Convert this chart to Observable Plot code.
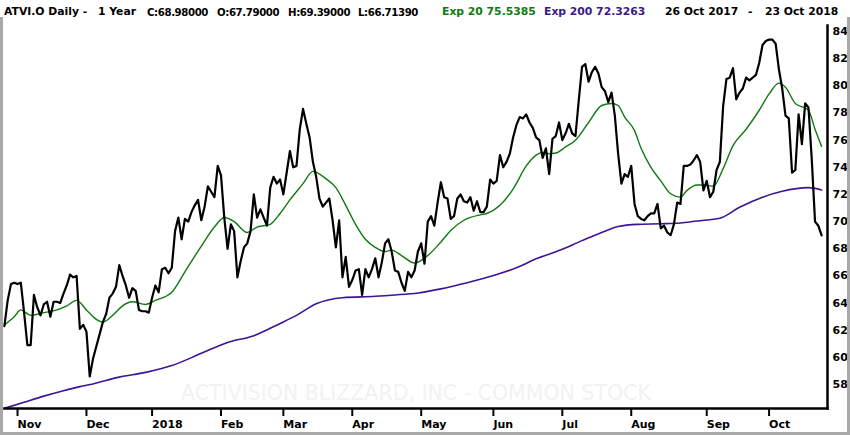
<!DOCTYPE html>
<html><head><meta charset="utf-8">
<script src="https://cdn.jsdelivr.net/npm/d3@7"></script>
<script src="https://cdn.jsdelivr.net/npm/@observablehq/plot@0.6"></script>
<style>
body{margin:0;background:#fff;}
#wrap{position:relative;width:850px;height:435px;overflow:hidden;background:#fff;font-family:"DejaVu Sans",sans-serif;}
.t{position:absolute;top:5px;font-size:10.8px;font-weight:bold;line-height:14px;white-space:pre;color:#000;}
.t.n{font-size:10.2px;letter-spacing:-0.4px;top:5.5px;}
#chart{position:absolute;left:0;top:20px;}
#border{position:absolute;left:0;top:17px;width:850px;height:418px;box-sizing:border-box;border:3px solid #a8a8a8;border-top:none;pointer-events:none;}
</style></head><body>
<div id="wrap"><div id="chart"></div><div id="border"></div></div>
<script>
// Daily closes, one per trading day, 26 Oct 2017 .. 23 Oct 2018 (index = trading day)
const closeValues = [
62.3,64.2,65.4,65.5,65.4,65.5,63.3,60.9,60.9,64.6,
63.7,63.1,63.9,64.1,63.0,64.1,64.1,64.0,64.7,65.3,
66.1,65.9,66.0,62.1,62.4,61.9,58.6,59.9,60.8,61.7,
62.6,63.2,64.4,64.7,65.2,66.8,66.0,65.3,64.4,65.1,
64.9,63.5,63.4,63.4,63.3,64.4,65.3,64.8,66.5,66.6,
66.2,66.6,69.3,70.3,68.7,70.2,70.0,70.7,71.2,71.6,
70.1,71.1,72.6,72.2,71.8,74.1,73.4,70.3,68.0,69.8,
69.3,65.9,67.1,68.1,68.4,69.3,72.0,70.3,70.9,70.3,
69.7,72.5,73.3,72.8,73.1,72.0,73.6,75.2,74.0,74.1,
76.8,78.3,77.2,76.2,74.4,73.3,71.7,71.1,71.4,71.7,
70.1,68.1,70.1,65.9,67.4,65.2,65.7,66.4,66.5,64.6,
66.5,65.9,66.5,67.3,65.9,67.0,68.4,68.7,67.8,66.4,
66.3,65.5,64.9,66.3,65.9,66.4,67.8,68.4,66.9,70.0,
70.4,69.7,71.4,72.9,71.8,71.7,70.2,70.4,71.7,72.0,
71.5,71.4,71.8,70.8,71.5,70.7,70.7,71.1,73.1,72.8,
73.0,74.9,74.0,74.4,75.0,76.2,77.1,77.7,77.6,77.9,
77.3,76.9,76.2,76.0,74.7,75.4,73.5,76.1,76.3,77.3,
76.0,76.5,77.2,76.5,76.3,78.9,81.4,81.6,80.3,81.0,
81.4,80.9,79.9,79.6,78.8,79.5,77.8,75.0,72.8,73.5,
73.3,74.1,71.3,70.4,70.2,70.1,70.4,70.6,70.6,71.3,
69.5,69.7,69.2,69.0,69.8,71.4,71.3,74.1,74.1,74.2,
74.5,74.9,74.4,72.3,73.0,71.8,72.2,73.8,74.4,78.5,
80.5,80.6,81.3,79.0,79.5,79.8,80.6,80.4,80.6,80.8,
81.7,83.0,83.3,83.4,83.4,83.1,81.2,79.8,77.8,77.6,
73.6,73.8,77.9,75.7,78.7,78.4,74.6,70.0,69.7,68.98
];
// Exp 20 moving average, read at these trading days
const ema20Index = [0,3,5,8,12,16,19,22,25,28,30,33,36,39,43,46,51,55,60,64,67,70,74,77,81,84,87,91,94,98,101,104,107,110,113,116,118,121,125,129,133,136,140,145,147,151,155,159,162,164,166,168,171,174,178,182,185,187,189,192,194,197,200,203,206,208,211,213,216,219,222,226,230,233,236,238,241,244,245,247,249];
const ema20Values = [62.4,63.0,63.5,63.1,63.3,63.5,63.8,64.2,63.5,62.8,62.6,63.1,63.8,64.1,63.9,64.2,64.8,66.3,68.2,69.6,70.3,70.0,69.2,69.6,69.8,70.6,71.6,72.8,73.7,73.15,72.5,71.2,69.8,68.7,68.1,67.8,67.9,67.5,66.95,67.5,68.5,69.35,70.1,70.5,70.6,71.2,72.4,74.1,74.9,75.1,75.0,75.05,75.5,76.0,77.3,78.55,78.7,78.55,77.7,76.7,75.4,74.0,73.0,72.05,71.8,72.3,72.7,72.7,72.6,73.9,75.6,76.8,78.2,79.4,80.2,79.9,78.7,78.35,78.2,76.8,75.54];
// Exp 200 moving average, read at these trading days
const ema200Index = [0,6,12,18,23,27,35,43,51,60,68,76,84,89,95,103,113,119,126,133,141,150,156,162,169,176,182,187,193,200,206,211,218,224,231,237,245,249];
const ema200Values = [56.25,56.7,57.15,57.55,57.85,58.05,58.55,58.9,59.4,60.3,61.1,61.6,62.5,63.1,63.95,64.4,64.5,64.6,64.75,65.05,65.5,66.1,66.6,67.26,67.87,68.6,69.2,69.64,69.8,69.84,69.9,70.05,70.25,71.06,71.8,72.24,72.5,72.33];
// Axis ticks
const monthTickIndex = [4,25,45,66,85,106,127,149,170,191,214,233];
const monthLabels = ["Nov","Dec","2018","Feb","Mar","Apr","May","Jun","Jul","Aug","Sep","Oct"];
const yTicks = [58,60,62,64,66,68,70,72,74,76,78,80,82,84];
// Header texts
const headerTexts = ["ATVI.O Daily -","1 Year","C:68.98000","O:67.79000","H:69.39000","L:66.71390","Exp 20 75.5385","Exp 200 72.3263","26 Oct 2017","-","23 Oct 2018"];
const watermark = "ACTIVISION BLIZZARD, INC - COMMON STOCK";

// layout for header pieces (left px, colour, narrow?)
const headerLayout = [[4,"#000",0],[98,"#000",0],[147,"#000",1],[217,"#000",1],[288,"#000",1],[358,"#000",1],[442,"#0f7a0f",0],[544,"#3a1a86",0],[665,"#000",0],[748,"#000",0],[765,"#000",0]];
const wrap = document.getElementById("wrap");
headerTexts.forEach((t,k)=>{
  const s=document.createElement("div");
  s.className = headerLayout[k][2] ? "t n" : "t";
  s.textContent=t;
  s.style.left=headerLayout[k][0]+"px"; s.style.color=headerLayout[k][1];
  wrap.appendChild(s);
});

const price = closeValues.map((v,i)=>({i,v}));
const e20 = ema20Index.map((i,k)=>({i,v:ema20Values[k]}));
const e200 = ema200Index.map((i,k)=>({i,v:ema200Values[k]}));

const chart = Plot.plot({
  width: 850, height: 415,
  marginLeft: 3.9, marginRight: 23, marginTop: 5, marginBottom: 27,
  x: {domain: [0, 250.8]},
  y: {domain: [56.24, 84.44]},
  style: {fontFamily: "DejaVu Sans", fontSize: "11px", fontWeight: "bold", color: "#000", background: "transparent"},
  marks: [
    Plot.text([watermark], {frameAnchor: "bottom", dy: -9, fontSize: 20.5, fontWeight: "normal", fill: "#f2f2f2"}),
    Plot.line(e200, {x: "i", y: "v", stroke: "#3d1496", strokeWidth: 1.6, curve: "monotone-x"}),
    Plot.line(e20, {x: "i", y: "v", stroke: "#107a10", strokeWidth: 1.4, curve: "monotone-x"}),
    Plot.line(price, {x: "i", y: "v", stroke: "#000", strokeWidth: 2.2, strokeLinejoin: "round"}),
    Plot.frame({anchor: "bottom", strokeWidth: 2.5}),
    Plot.frame({anchor: "right", strokeWidth: 2.5}),
    Plot.axisY({anchor: "right", ticks: yTicks, tickSize: 0, tickPadding: 5, label: null}),
    Plot.axisX({ticks: monthTickIndex, tickFormat: d => monthLabels[monthTickIndex.indexOf(d)], tickSize: 8, tickPadding: 4, textAnchor: "start", strokeWidth: 2, label: null})
  ]
});
document.getElementById("chart").appendChild(chart);
</script>
</body></html>
